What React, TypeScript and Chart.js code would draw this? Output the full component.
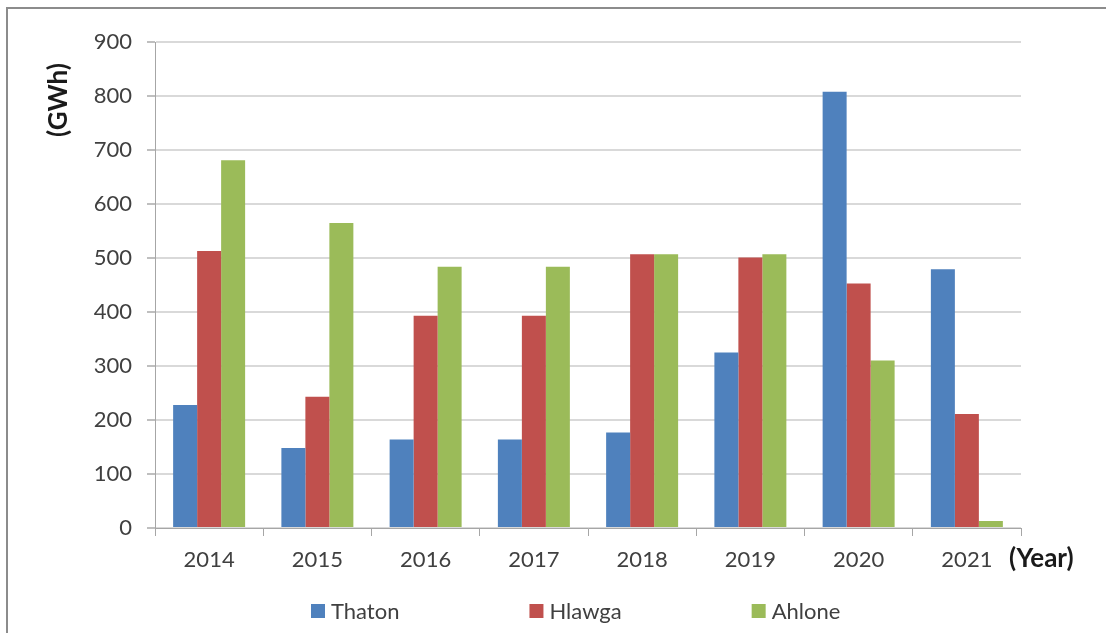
import React, { useEffect, useRef } from 'react';
import { Chart, registerables } from 'chart.js';

Chart.register(...registerables);

const years = ['2014', '2015', '2016', '2017', '2018', '2019', '2020', '2021'];
const seriesNames = ['Thaton', 'Hlawga', 'Ahlone'];
const thaton = [228, 148, 164, 164, 177, 325, 808, 479];
const hlawga = [513, 243, 393, 393, 507, 501, 453, 211];
const ahlone = [681, 565, 484, 484, 507, 507, 310, 13];
const seriesColors = ['#4f81bd', '#c0504d', '#9bbb59'];
const yMin = 0;
const yMax = 900;
const yStep = 100;
const yTitle = '(GWh)';
const xTitle = '(Year)';

const W = 1106;
const H = 633;

const overlayPlugin = {
  id: 'overlayTexts',
  afterDraw(chart: any) {
    const ctx = chart.ctx as CanvasRenderingContext2D;
    // y title
    ctx.save();
    ctx.fillStyle = '#1a1a1a';
    ctx.font = 'bold 26px Lato';
    ctx.textBaseline = 'middle';
    ctx.textAlign = 'center';
    ctx.translate(59, 100);
    ctx.rotate(-Math.PI / 2);
    ctx.fillText(yTitle, 0, 0);
    ctx.restore();
    // x title
    ctx.save();
    ctx.fillStyle = '#1a1a1a';
    ctx.font = 'bold 26px Lato';
    ctx.textBaseline = 'middle';
    ctx.textAlign = 'left';
    ctx.fillText(xTitle, 1009, 559);
    ctx.restore();
    // legend
    ctx.save();
    ctx.font = '22px Lato';
    ctx.textBaseline = 'middle';
    ctx.textAlign = 'left';
    const box = 14;
    const gap = 6;
    const spacing = 130;
    const ds = chart.data.datasets;
    let total = 0;
    ds.forEach((d: any, i: number) => {
      total += box + gap + ctx.measureText(d.label).width + (i < ds.length - 1 ? spacing : 0);
    });
    let x = Math.round(576 - total / 2);
    const y = 611;
    ds.forEach((d: any) => {
      ctx.fillStyle = d.backgroundColor;
      ctx.fillRect(x, y - box / 2, box, box);
      ctx.fillStyle = '#404040';
      ctx.fillText(d.label, x + box + gap, y + 1);
      x += box + gap + ctx.measureText(d.label).width + spacing;
    });
    ctx.restore();
  },
};

export default function App() {
  const ref = useRef<HTMLCanvasElement | null>(null);

  useEffect(() => {
    if (!ref.current) return;
    const data = [thaton, hlawga, ahlone];
    const chart = new Chart(ref.current, {
      type: 'bar',
      data: {
        labels: years,
        datasets: seriesNames.map((name, i) => ({
          label: name,
          data: data[i],
          backgroundColor: seriesColors[i],
          borderWidth: 0,
          barPercentage: 1,
          categoryPercentage: 0.665,
        })),
      },
      options: {
        responsive: false,
        animation: false,
        devicePixelRatio: 1,
        layout: { padding: { top: 42, right: 85, bottom: 0, left: 0 } },
        plugins: {
          legend: { display: false },
          tooltip: { enabled: false },
        },
        scales: {
          x: {
            grid: {
              display: true,
              drawOnChartArea: false,
              drawTicks: true,
              tickLength: 8,
              color: '#a6a6a6',
              lineWidth: 1,
              offset: true,
            },
            border: { display: true, color: '#a6a6a6', width: 1 },
            ticks: {
              font: { family: 'Lato', size: 22 },
              color: '#404040',
              padding: 11,
              maxRotation: 0,
              autoSkip: false,
            },
            afterFit: (s: any) => {
              s.height = 105;
            },
          },
          y: {
            min: yMin,
            max: yMax,
            ticks: {
              stepSize: yStep,
              font: { family: 'Lato', size: 22 },
              color: '#404040',
              padding: 15,
            },
            grid: {
              color: '#d9d9d9',
              lineWidth: 2,
              tickLength: 8,
              tickColor: '#bfbfbf',
            },
            border: { display: true, color: '#a6a6a6', width: 1 },
            afterFit: (s: any) => {
              s.width = 155;
            },
          },
        },
      },
      plugins: [overlayPlugin],
    } as any);
    return () => chart.destroy();
  }, []);

  return (
    <div style={{ position: 'absolute', left: 0, top: 0, width: W, height: H, background: '#fff', overflow: 'hidden' }}>
      <div
        style={{
          position: 'absolute',
          left: 6,
          top: 7,
          right: 0,
          bottom: 0,
          borderTop: '2px solid #8c8c8c',
          borderLeft: '2px solid #8c8c8c',
        }}
      />
      <canvas ref={ref} width={W} height={H} style={{ position: 'absolute', left: 0, top: 0 }} />
    </div>
  );
}
